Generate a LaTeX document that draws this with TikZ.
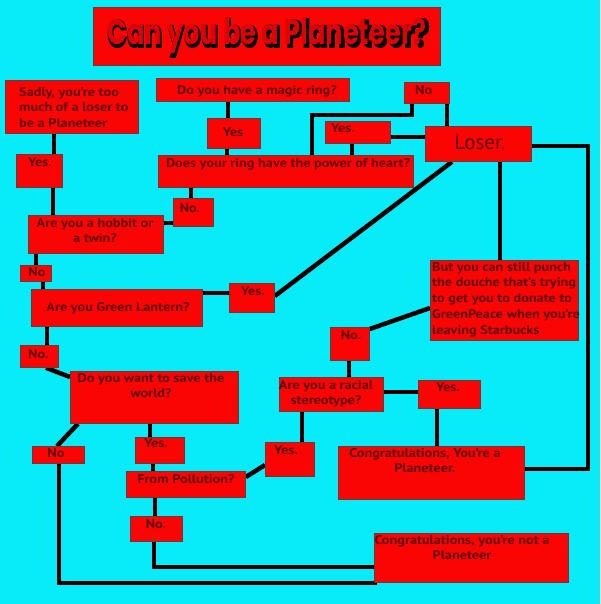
\documentclass[tikz,border=0pt]{standalone}
\usepackage{fontspec}
\setmainfont{PT Sans}[BoldFont={PT Sans Bold}, FakeStretch=1.14]
\newfontfamily\loserfont{PT Sans}
\newfontfamily\titlefont{Poppins}[BoldFont={Poppins Bold}]
\newfontfamily\titleshadow{Poppins}[BoldFont={Poppins Bold}, BoldFeatures={FakeBold=5}]
\usetikzlibrary{backgrounds}
\definecolor{bgcyan}{RGB}{8,236,250}
\definecolor{boxred}{RGB}{250,4,4}
\definecolor{boxedge}{RGB}{120,50,50}
\definecolor{txtred}{RGB}{95,8,8}
\tikzset{
  box/.style={fill=boxred, draw=boxedge, line width=0.8pt, inner sep=0pt, anchor=north west},
  txt/.style={inner sep=0pt, text=txtred, font=\bfseries\fontsize{12.5}{15.8}\selectfont},
  conn/.style={line width=4.5pt, black},
}
\newcommand\bx[5]{\node[box, minimum width={(#4-#2)*1pt}, minimum height={(#5-#3)*1pt}] (#1) at (#2,#3) {};}
\begin{document}
\begin{tikzpicture}[x=1pt,y=-1pt]
\useasboundingbox (0,0) rectangle (600,604);
% boxes
\bx{title}{93}{7}{440}{65}
\bx{sadly}{5}{80}{138}{133}
\bx{ring}{156}{78}{349}{101}
\bx{noTop}{404}{82}{449}{103}
\bx{yesRing}{207}{118}{260}{148}
\bx{yesLoser}{325}{121}{390}{143}
\bx{loser}{425}{126}{531}{161}
\bx{heart}{158}{155}{413}{187}
\bx{yesL}{16}{154}{62}{187}
\bx{noRing}{173}{198}{213}{226}
\bx{hobbit}{28}{215}{163}{253}
\bx{noLa}{20}{265}{51}{281}
\bx{gl}{31}{289}{202}{326}
\bx{yesM}{229}{283}{274}{312}
\bx{punch}{430}{260}{578}{340}
\bx{noM}{330}{327}{369}{360}
\bx{noLb}{20}{345}{58}{367}
\bx{world}{70}{371}{238}{423}
\bx{racial}{279}{377}{383}{411}
\bx{yesR}{418}{380}{480}{408}
\bx{cong}{338}{446}{524}{499}
\bx{noBL}{32}{446}{84}{463}
\bx{yesW}{135}{437}{184}{463}
\bx{poll}{126}{471}{245}{497}
\bx{yesP}{265}{442}{314}{476}
\bx{noP}{130}{516}{182}{541}
\bx{congNot}{374}{533}{568}{582}
% connectors
\begin{pgfonlayer}{background}
\fill[bgcyan] (0,0) rectangle (600,604);
\draw[conn] (sadly.south -| 54,0) -- (yesL.north -| 54,0);
\draw[conn] (yesL.south -| 53,0) -- (hobbit.north -| 53,0);
\draw[conn] (ring.south -| 228,0) -- (yesRing.north -| 228,0);
\draw[conn] (yesRing.south -| 227,0) -- (heart.north -| 227,0);
\draw[conn] (noTop.south -| 447,0) -- (loser.north -| 447,0);
\draw[conn] (noTop.south -| 412,0) -- (412,115) -- (312,115) -- (heart.north -| 312,0);
\draw[conn] (yesLoser.east |- 0,137) -- (loser.west |- 0,137);
\draw[conn] (yesLoser.south -| 352,0) -- (heart.north -| 352,0);
\draw[conn] (loser.east |- 0,146) -- (588,146) -- (588,469) -- (cong.east |- 0,469);
\draw[conn] (loser.south -| 500,0) -- (punch.north -| 500,0);
\draw[conn] (loser.south -| 452,0) -- (yesM.east |- 0,296);
\draw[conn] (gl.east |- 0,293) -- (yesM.west |- 0,293);
\draw[conn] (hobbit.east |- 0,223) -- (noRing.west |- 0,223);
\draw[conn] (heart.south -| 191,0) -- (noRing.north -| 191,0);
\draw[conn] (hobbit.south -| 36,0) -- (noLa.north -| 36,0);
\draw[conn] (noLa.south -| 43,0) -- (gl.north -| 43,0);
\draw[conn] (gl.south -| 47,0) -- (noLb.north -| 47,0);
\draw[conn] (noLb.south -| 46,0) -- (world.west |- 0,377);
\draw[conn] (punch.west |- 0,308) -- (noM.east |- 0,329);
\draw[conn] (noM.south -| 349,0) -- (racial.north -| 349,0);
\draw[conn] (racial.east |- 0,392) -- (yesR.west |- 0,392);
\draw[conn] (yesR.south -| 437,0) -- (cong.north -| 437,0);
\draw[conn] (racial.south -| 302,0) -- (yesP.north -| 302,0);
\draw[conn] (yesP.west |- 0,465) -- (poll.east |- 0,477);
\draw[conn] (world.south -| 78,0) -- (noBL.north -| 57,0);
\draw[conn] (world.south -| 150,0) -- (yesW.north -| 150,0);
\draw[conn] (yesW.south -| 153,0) -- (poll.north -| 153,0);
\draw[conn] (poll.south -| 155,0) -- (noP.north -| 155,0);
\draw[conn] (noP.south -| 154,0) |- (congNot.west |- 0,567);
\draw[conn] (noBL.south -| 59,0) |- ([xshift=3pt]congNot.south west);
\end{pgfonlayer}
% title
\node[inner sep=0pt, text=black] (tshadow) at ([xshift=1.5pt, yshift=-1.5pt]title.center) {\titleshadow\bfseries\resizebox{322pt}{28pt}{Can you be a Planeteer?}};
\node[inner sep=0pt, text=boxred!88!black] (ttxt) at (title.center) {\titlefont\bfseries\resizebox{318pt}{26pt}{Can you be a Planeteer?}};
% texts
\node[txt, anchor=north west, align=left] (sadlyT) at (19,87) {Sadly, you're too\\much of a loser to\\be a Planeteer};
\node[txt, anchor=north] (ringT) at (257,85) {Do you have a magic ring?};
\node[txt, anchor=north west] (noTopT) at (415,85) {No};
\node[txt, anchor=north] (yesRingT) at (233,128) {Yes};
\node[txt, anchor=north west] (yesLoserT) at (331,124) {Yes.};
\node[inner sep=0pt, text=txtred, font=\loserfont\fontsize{21}{24}\selectfont] (loserT) at (480,142) {Loser.};
\node[txt, anchor=north] (heartT) at (288,158) {Does your ring have the power of heart?};
\node[txt, anchor=north west] (yesLT) at (28,158) {Yes.};
\node[txt, anchor=north] (noRingT) at (190,203) {No.};
\node[txt, anchor=north, align=center] (hobbitT) at (95,218) {Are you a hobbit or\\a twin?};
\node[txt, anchor=north] (noLaT) at (37,267) {No};
\node[txt, anchor=north] (glT) at (118,302) {Are you Green Lantern?};
\node[txt, anchor=north west] (yesMT) at (241,287) {Yes.};
\node[txt, anchor=north west, align=left] (punchT) at (432,262) {But you can still punch\\the douche that's trying\\to get you to donate to\\GreenPeace when you're\\leaving Starbucks};
\node[txt, anchor=north] (noMT) at (351,330) {No.};
\node[txt, anchor=north west] (noLbT) at (28,349) {No.};
\node[txt, anchor=north, align=center] (worldT) at (151,373) {Do you want to save the\\world?};
\node[txt, anchor=north, align=center] (racialT) at (326,380) {Are you a racial\\stereotype?};
\node[txt, anchor=north] (yesRT) at (448,383) {Yes.};
\node[txt, anchor=north, align=center] (congT) at (425,448) {Congratulations, You're a\\Planeteer.};
\node[txt, anchor=north] (noBLT) at (56,448) {No};
\node[txt, anchor=north west] (yesWT) at (144,439) {Yes.};
\node[txt, anchor=north] (pollT) at (186,474) {From Pollution?};
\node[txt, anchor=north] (yesPT) at (286,446) {Yes.};
\node[txt, anchor=north] (noPT) at (156,519) {No.};
\node[txt, anchor=north, align=center] (congNotT) at (462,535) {Congratulations, you're not a\\Planeteer};
\end{tikzpicture}
\end{document}
